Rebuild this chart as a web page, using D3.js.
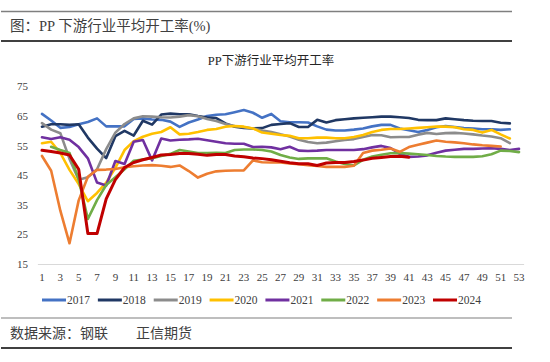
<!DOCTYPE html>
<html><head><meta charset="utf-8">
<script src="https://cdn.jsdelivr.net/npm/d3@7/dist/d3.min.js"></script>
<style>
body{margin:0;background:#fff;}
text{font-family:"Liberation Serif","Noto Sans CJK SC",serif;}
</style></head>
<body><svg id="c" width="550" height="362"></svg>
<script>
const weeks = d3.range(1, 54);
const yTicks = [15, 25, 35, 45, 55, 65, 75];
const xTickLabels = weeks.filter(w => w % 2 === 1);
const seriesNames = ["2017","2018","2019","2020","2021","2022","2023","2024"];

const s2017 = [65.7,63.5,61.0,61.3,62.2,63.0,64.2,61.5,61.5,61.5,64.0,64.2,63.8,63.7,63.1,61.3,62.8,63.8,65.0,65.4,65.6,66.3,67.0,66.1,64.4,65.7,63.2,62.9,62.9,62.8,61.5,60.4,60.1,60.1,60.4,60.8,61.5,62.0,62.0,60.8,60.2,59.6,60.3,61.2,61.6,61.3,60.9,60.8,60.5,60.5,60.3,60.5];
const s2018 = [61.4,62.2,62.2,62.0,62.2,57.7,54.0,50.8,58.2,60.0,58.4,63.4,62.1,65.5,65.8,65.6,65.6,65.0,64.5,64.3,62.5,61.4,61.0,60.8,60.9,62.0,62.3,62.6,61.3,61.3,63.7,62.8,63.6,63.9,64.2,64.4,64.6,64.8,64.8,64.6,64.3,63.7,63.6,63.6,64.2,63.9,63.6,63.4,63.3,63.3,62.7,62.5];
const s2019 = [62.6,60.4,59.2,50.5,43.5,44.3,47.0,53.8,59.4,62.3,64.2,64.9,64.8,64.6,64.5,64.8,65.3,64.9,64.0,63.3,62.3,61.6,61.2,60.8,60.1,59.6,58.8,58.1,57.0,56.2,55.8,56.0,56.5,56.9,57.2,57.9,58.6,58.5,57.8,57.9,57.9,58.7,59.3,58.9,59.2,59.3,59.1,58.8,58.4,58.1,57.5,55.8];
const s2020 = [55.8,56.3,52.5,46.8,42.0,36.2,39.0,42.5,47.5,53.5,56.5,58.0,59.0,59.6,61.2,58.8,59.0,59.6,60.3,60.6,61.4,61.6,61.4,60.8,59.4,59.0,58.6,58.3,57.5,57.5,57.7,57.7,57.5,57.5,57.9,58.6,59.6,60.3,60.6,60.6,60.8,61.0,61.2,61.4,61.4,61.2,60.5,60.3,59.4,60.3,58.8,57.4];
const s2021 = [57.8,57.2,57.8,57.0,54.5,50.7,42.5,41.5,49.8,48.8,56.3,56.9,50.0,57.4,56.7,57.0,57.1,57.3,56.8,56.3,55.8,55.6,55.6,54.5,54.6,54.4,53.8,54.6,53.3,53.2,53.3,53.5,53.5,53.5,53.5,53.8,54.4,54.9,54.2,52.2,51.2,51.3,51.7,52.6,53.3,53.6,53.9,53.9,54.0,54.1,53.9,53.5,53.9];
const s2022 = [null,54.6,53.5,52.5,43.5,30.2,36.6,41.7,44.3,47.0,49.9,50.3,50.7,51.5,52.2,53.5,53.0,52.5,52.5,52.6,52.5,53.5,53.7,53.7,53.5,53.0,51.8,51.0,50.5,50.7,50.7,50.7,49.6,48.8,48.3,50.2,51.3,51.9,52.4,52.5,52.3,52.1,51.8,51.5,51.3,51.2,51.2,51.2,51.4,52.1,53.3,53.2,52.8];
const s2023 = [51.5,46.5,33.0,22.0,36.5,44.5,46.8,46.9,47.1,47.7,48.0,48.3,48.4,48.2,47.8,48.3,46.4,44.2,45.5,46.3,46.5,46.6,46.6,50.0,49.4,49.3,49.3,49.0,48.7,48.4,48.1,47.8,47.8,47.8,48.2,52.5,53.3,53.6,54.0,52.9,54.5,55.3,56.0,56.7,56.3,56.1,55.8,55.4,55.1,54.9,54.7];
const s2024 = [53.4,53.0,52.5,51.8,47.0,25.3,25.3,37.0,43.5,47.6,49.3,50.2,51.0,51.8,52.0,52.3,52.3,52.1,51.7,52.0,52.0,51.5,51.2,50.8,50.6,50.2,49.7,49.2,48.9,48.9,48.3,49.1,49.3,49.3,49.6,50.1,50.7,51.0,51.3,51.4,51.1];

const seriesValues = [s2017,s2018,s2019,s2020,s2021,s2022,s2023,s2024];
const colors = ["#4472C4","#203864","#8C8C8C","#FFC000","#7030A0","#70AD47","#ED7D31","#C00000"];

const svg = d3.select("#c");

// header & footer rules
svg.append("line").attr("x1",1).attr("x2",512).attr("y1",11.5).attr("y2",11.5).attr("stroke","#7f7f7f").attr("stroke-width",1.5);
svg.append("text").attr("x",10).attr("y",31).attr("font-size",14.5).attr("fill","#404040").text("图：PP 下游行业平均开工率(%)");
svg.append("line").attr("x1",1).attr("x2",512).attr("y1",41).attr("y2",41).attr("stroke","#000").attr("stroke-width",1.5);

svg.append("line").attr("x1",1).attr("x2",512).attr("y1",318).attr("y2",318).attr("stroke","#7f7f7f").attr("stroke-width",1.2);
svg.append("text").attr("x",10).attr("y",338).attr("font-size",14).attr("fill","#404040").text("数据来源：钢联　　正信期货");
svg.append("line").attr("x1",1).attr("x2",512).attr("y1",348).attr("y2",348).attr("stroke","#000").attr("stroke-width",1.5);

// chart title
svg.append("text").attr("x",271).attr("y",65).attr("text-anchor","middle").attr("font-size",12.5).attr("fill","#262626").text("PP下游行业平均开工率");

const x = d3.scaleBand().domain(weeks).range([37.4, 523.6]).paddingInner(0).paddingOuter(0);
const xc = w => x(w) + x.bandwidth()/2;
const y = d3.scaleLinear().domain([15, 75]).range([264, 86.4]);

// y axis
const yAxis = d3.axisLeft(y).tickValues(yTicks).tickSize(0).tickPadding(0);
const gy = svg.append("g").attr("transform","translate(28,0)").call(yAxis);
gy.select(".domain").remove();
gy.selectAll("text").attr("font-size",11).attr("fill","#404040").attr("font-family","Liberation Serif");

// x axis
const xAxis = d3.axisBottom(x).tickValues(xTickLabels).tickSize(0).tickPadding(9);
const gx = svg.append("g").attr("transform","translate(0,264)").call(xAxis);
gx.select(".domain").attr("stroke","#d9d9d9").attr("stroke-width",1);
gx.selectAll("text").attr("font-size",11).attr("fill","#404040").attr("font-family","Liberation Serif");

// lines
const line = d3.line().defined(d => d.v != null).x(d => xc(d.w)).y(d => y(d.v));
seriesValues.forEach((vals, i) => {
  const data = vals.map((v, j) => ({w: weeks[j], v}));
  svg.append("path").datum(data).attr("d", line).attr("fill","none")
    .attr("stroke", colors[i]).attr("stroke-width", i === 7 ? 3 : 2.6).attr("stroke-linejoin","round").attr("stroke-linecap","round");
});

// legend
const legX = d3.scaleLinear().domain([0, 7]).range([42, 433]);
seriesNames.forEach((n, i) => {
  const g = svg.append("g").attr("transform", `translate(${legX(i)},300)`);
  g.append("line").attr("x1",0).attr("x2",24).attr("y1",0).attr("y2",0).attr("stroke",colors[i]).attr("stroke-width",3);
  g.append("text").attr("x",25).attr("y",4).attr("font-size",11.5).attr("fill","#404040").attr("font-family","Liberation Serif").text(n);
});
</script>
</body></html>
